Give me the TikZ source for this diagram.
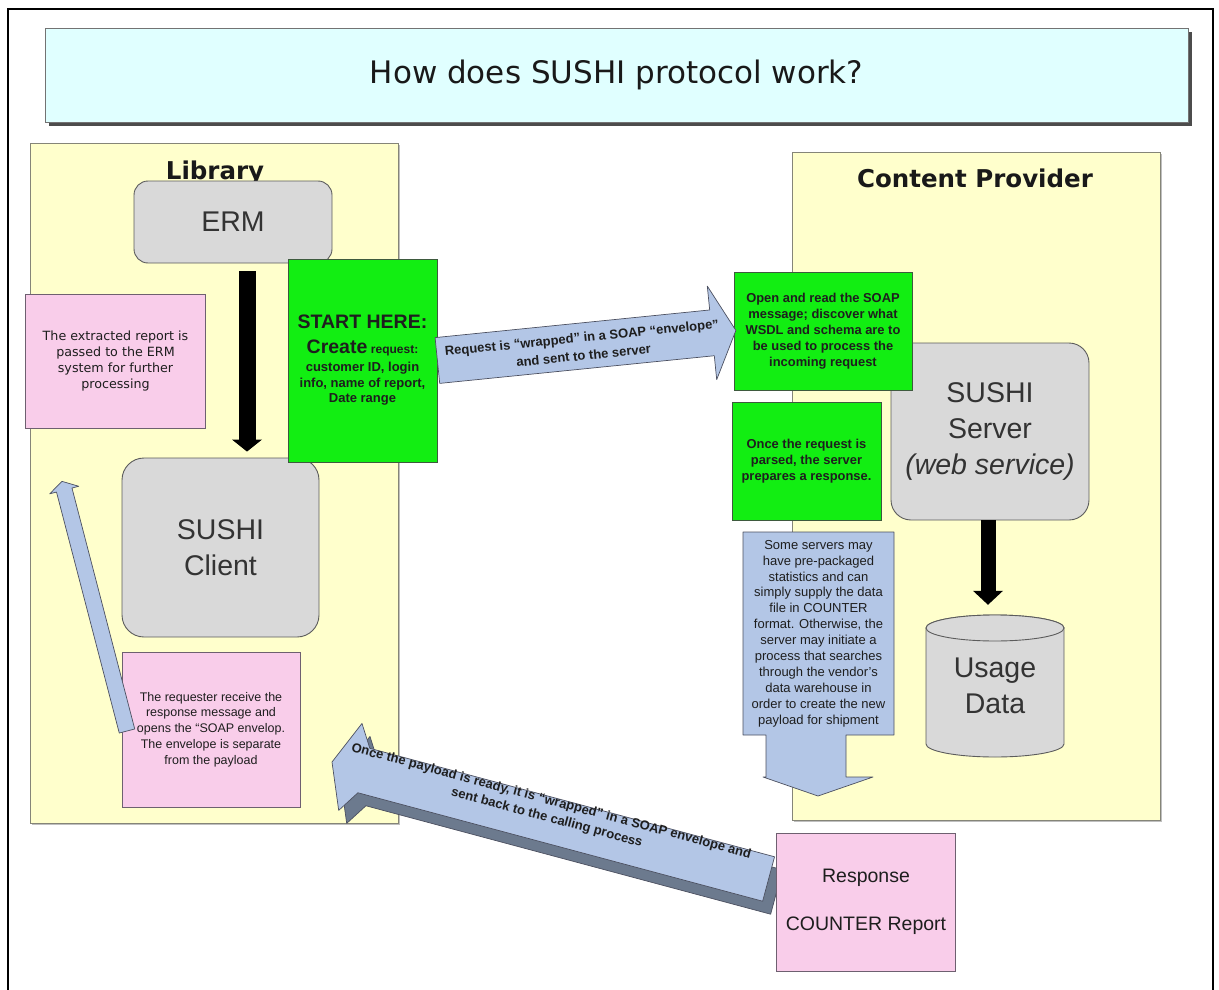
\documentclass[tikz,border=0pt]{standalone}
\usepackage{fontspec}
\setmainfont{Liberation Sans}
\newfontfamily\dejavu{DejaVu Sans}
\usetikzlibrary{calc,arrows.meta,shadows}
\definecolor{cyellow}{HTML}{FFFFCC}
\definecolor{cbord}{HTML}{858578}
\definecolor{cgray}{HTML}{D9D9D9}
\definecolor{cgrayb}{HTML}{5C5C5C}
\definecolor{cpink}{HTML}{F9CDEA}
\definecolor{cpinkb}{HTML}{6E6070}
\definecolor{cgreen}{HTML}{12EE12}
\definecolor{cgreenb}{HTML}{3E5A3E}
\definecolor{cblue}{HTML}{B3C6E6}
\definecolor{cblueb}{HTML}{4C5060}
\definecolor{cbluedk}{HTML}{6C7A8E}
\definecolor{ctitle}{HTML}{E0FFFF}
\definecolor{ctext}{HTML}{1E1E1E}
\begin{document}
\begin{tikzpicture}[x=1pt, y=-1pt, font=\fontsize{13}{16}\selectfont, text=ctext,
  panel/.style={draw=cbord, fill=cyellow, line width=0.9pt,
    drop shadow={shadow xshift=2pt, shadow yshift=-2pt, fill=black!25, opacity=1}},
  paneltitle/.style={font=\dejavu\bfseries\fontsize{24.5}{28}\selectfont, text=black!90, inner sep=0pt},
  grayround/.style={draw=cgrayb, fill=cgray, line width=0.9pt, align=center, inner sep=0pt,
    font=\fontsize{28.5}{36}\selectfont, text=black!80},
  pinkbox/.style={draw=cpinkb, fill=cpink, line width=0.8pt, align=center, inner sep=0pt},
  greenbox/.style={draw=cgreenb, fill=cgreen, line width=0.8pt, align=center, inner sep=0pt,
    font=\bfseries\fontsize{12.9}{16}\selectfont},
  blockarrow/.style={draw=cblueb, fill=cblue, line width=0.7pt, line join=round},
  blockshade/.style={draw=cblueb, fill=cbluedk, line width=0.7pt, line join=round},
  arrowtext/.style={align=center, inner sep=0pt, transform shape, font=\bfseries\fontsize{13}{17}\selectfont},
  heavy/.style={line width=#1, draw=black},
  cylstyle/.style={draw=cgrayb, fill=cgray, line width=0.9pt}]

\useasboundingbox (0,0) rectangle (1219,990);

% outer frame
\draw[line width=1.6pt] (8,9) rectangle (1213,1010);

% title banner
\node[draw=black!55, fill=ctitle, line width=0.8pt, minimum width=1143pt, minimum height=94pt,
  drop shadow={shadow xshift=4pt, shadow yshift=-4pt, fill=black!70, opacity=1},
  font=\dejavu\fontsize{31}{36}\selectfont, text=black!90] (title) at (616.5,75) {How does SUSHI protocol work?};

% the two sides
\node[panel, minimum width=368pt, minimum height=680pt] (lib) at (214,483) {};
\node[panel, minimum width=368pt, minimum height=668pt] (cp) at (976,486) {};
\node[paneltitle, anchor=base] (libtitle) at (215,179) {Library};
\node[paneltitle, anchor=base] (cptitle) at (975,187) {Content Provider};

% system components
\node[grayround, minimum width=198pt, minimum height=82pt, rounded corners=14pt] (erm) at (233,222) {ERM};
\node[grayround, minimum width=197pt, minimum height=179pt, rounded corners=22pt] (client) at (220.5,547.5) {SUSHI\\Client};
\node[grayround, minimum width=198pt, minimum height=177pt, rounded corners=20pt] (server) at (990,431.5) {SUSHI\\Server\\\textit{(web service)}};

% usage data store
\coordinate (cylc) at (995,686);
\begin{scope}[shift={(cylc)}]
  \draw[cylstyle] (-69,-58) -- (-69,58) .. controls (-69,65.2) and (-38.1,71) .. (0,71)
    .. controls (38.1,71) and (69,65.2) .. (69,58) -- (69,-58)
    .. controls (69,-65.2) and (38.1,-71) .. (0,-71)
    .. controls (-38.1,-71) and (-69,-65.2) .. (-69,-58) -- cycle;
  \draw[cylstyle] (0,-58) ellipse [x radius=69pt, y radius=13pt];
\end{scope}
\node[minimum width=138pt, minimum height=142pt, inner sep=0pt, align=center,
  font=\fontsize{28.5}{36}\selectfont, text=black!80] (usage) at (cylc) {Usage\\Data};

% heavy black arrows
\draw[heavy=17pt, -{Triangle[width=30pt,length=12pt,line width=0pt]}, shorten <=8pt, shorten >=6pt]
  ([xshift=14pt]erm.south) -- ([xshift=14pt]erm.south |- client.north);
\draw[heavy=15pt, -{Triangle[width=30pt,length=14pt,line width=0pt]}, shorten >=10pt]
  ([xshift=-2pt]server.south) -- ([xshift=-2pt]server.south |- usage.north);

% library notes
\node[pinkbox, minimum width=180pt, minimum height=134pt, font=\dejavu\fontsize{12.7}{16}\selectfont] (extracted) at (115.5,361)
  {The extracted report is\\passed to the ERM\\system for further\\processing};

\node[greenbox, minimum width=149pt, minimum height=203pt, font=\bfseries\fontsize{13}{15.5}\selectfont] (start) at (362.5,360.5)
  {{\fontsize{19.5}{22}\selectfont START HERE:}\\[9.5pt]
   {\fontsize{19.5}{22}\selectfont Create} {\fontsize{12}{14}\selectfont request:}\\[2.5pt]
   customer ID, login\\info, name of report,\\Date range};

% provider notes
\node[greenbox, minimum width=178pt, minimum height=118pt] (open) at (823,331)
  {Open and read the SOAP\\message; discover what\\WSDL and schema are to\\be used to process the\\incoming request};
\node[greenbox, minimum width=149pt, minimum height=118pt] (parsed) at (806.5,461)
  {Once the request is\\parsed, the server\\prepares a response.};

% callout pointing down to the response
\coordinate (callc) at (818.5,633.5);
\begin{scope}[shift={(callc)}]
  \draw[blockarrow] (-75.5,-101.5) -- (75.5,-101.5) -- (75.5,101.5) -- (27.5,101.5) -- (27.5,143.5)
    -- (54.5,143.5) -- (-0.5,162.5) -- (-55.5,143.5) -- (-52.5,143.5) -- (-52.5,101.5) -- (-75.5,101.5) -- cycle;
\end{scope}
\node[minimum width=151pt, minimum height=203pt, inner sep=0pt, align=center, font=\fontsize{13}{15.9}\selectfont] (callout) at (callc)
  {Some servers may\\have pre-packaged\\statistics and can\\simply supply the data\\file in COUNTER\\format. Otherwise, the\\server may initiate a\\process that searches\\through the vendor’s\\data warehouse in\\order to create the new\\payload for shipment};

% requester note
\node[pinkbox, minimum width=178pt, minimum height=155pt, font=\fontsize{12.5}{15.8}\selectfont] (requester) at (211,729.5)
  {The requester receive the\\response message and\\opens the “SOAP envelop.\\The envelope is separate\\from the payload};

% hand-over of the report to the ERM
\coordinate (upbase) at (127,731);
\begin{scope}[shift={(upbase)}, rotate=104.6]
  \draw[blockarrow] (0,-8) -- (249,-8) -- (249,-15) -- (258,0) -- (249,15) -- (249,8) -- (0,8) -- cycle;
\end{scope}

% request sent to the server
\begin{scope}[shift={(start.east)}, rotate=5.75]
  \draw[blockarrow] (0,-23) -- (276,-23) -- (276,-47) -- (300,0) -- (276,47) -- (276,23) -- (0,23) -- cycle;
  \node[arrowtext, font=\bfseries\fontsize{13}{18}\selectfont] (reqtext) at (146,0.6)
    {Request is “wrapped” in a SOAP “envelope”\\and sent to the server};
\end{scope}

% response sent back to the library
\coordinate (backtip) at (332,762);
\begin{scope}[shift={($(backtip)+(8,13)$)}, rotate=-15]
  \draw[blockshade] (0,0) -- (19,-45) -- (33,-23) -- (452,-23) -- (452,23) -- (33,23) -- (19,45) -- cycle;
\end{scope}
\begin{scope}[shift={(backtip)}, rotate=-15]
  \draw[blockarrow] (0,0) -- (19,-45) -- (33,-23) -- (452,-23) -- (452,23) -- (33,23) -- (19,45) -- cycle;
  \node[arrowtext] (backtext) at (222,-10)
    {Once the payload is ready, it is “wrapped” in a SOAP envelope and\\sent back to the calling process};
\end{scope}

% the response itself
\node[pinkbox, minimum width=179pt, minimum height=138pt, font=\fontsize{19.5}{48}\selectfont] (response) at (866,902)
  {Response\\COUNTER Report};

\end{tikzpicture}
\end{document}
